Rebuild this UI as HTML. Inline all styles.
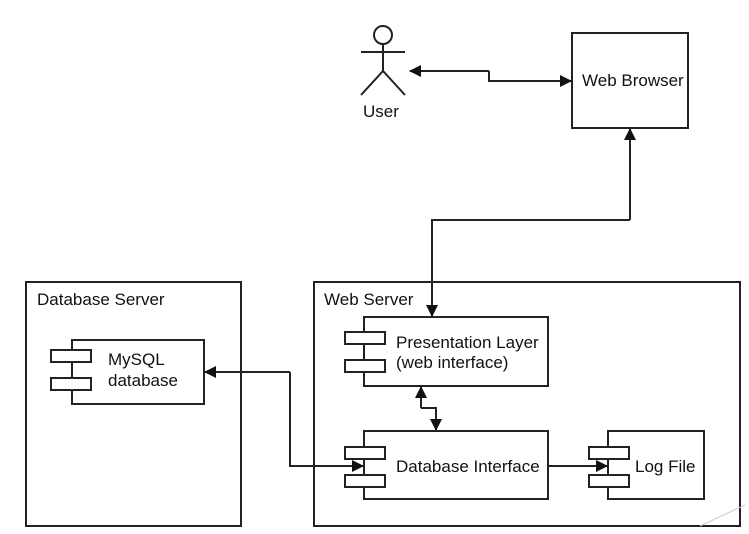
<!DOCTYPE html>
<html><head><style>body{margin:0;background:#fff}svg{display:block}</style></head><body>
<svg width="749" height="534" xmlns="http://www.w3.org/2000/svg" font-family="Liberation Sans, sans-serif" fill="none" stroke="#222" stroke-width="2">
<defs><marker id="a" markerWidth="12" markerHeight="12" refX="11" refY="6" orient="auto" markerUnits="userSpaceOnUse"><path d="M0,0 L12,6 L0,12z" fill="#111" stroke="none"/></marker></defs>
<rect x="26" y="282" width="215" height="244"/>
<rect x="314" y="282" width="426" height="244"/>
<rect x="572" y="33" width="116" height="95"/>
<g fill="#fff">
<rect x="72" y="340" width="132" height="64"/><rect x="51" y="350" width="40" height="12"/><rect x="51" y="378" width="40" height="12"/>
<rect x="364" y="317" width="184" height="69"/><rect x="345" y="332" width="40" height="12"/><rect x="345" y="360" width="40" height="12"/>
<rect x="364" y="431" width="184" height="68"/><rect x="345" y="447" width="40" height="12"/><rect x="345" y="475" width="40" height="12"/>
<rect x="608" y="431" width="96" height="68"/><rect x="589" y="447" width="40" height="12"/><rect x="589" y="475" width="40" height="12"/>
</g>
<circle cx="383" cy="35" r="9"/>
<path d="M383 44V71M361 52H405M361 95L383 71L405 95"/>
<path d="M489 71H410" marker-end="url(#a)"/>
<path d="M489 71V81H571" marker-end="url(#a)"/>
<path d="M630 220V129" marker-end="url(#a)"/>
<path d="M630 220H432V316" marker-end="url(#a)"/>
<path d="M290 372H205" marker-end="url(#a)"/>
<path d="M290 372V466H363" marker-end="url(#a)"/>
<path d="M421 408V387" marker-end="url(#a)"/>
<path d="M421 408H436V430" marker-end="url(#a)"/>
<path d="M548 466H607" marker-end="url(#a)"/>
<path d="M700 526L745 505" stroke="#ccc" stroke-width="1"/>
<g fill="#111" stroke="none" font-size="17">
<text x="363" y="117">User</text>
<text x="582" y="86">Web Browser</text>
<text x="37" y="305">Database Server</text>
<text x="324" y="305">Web Server</text>
<text x="108" y="365">MySQL</text>
<text x="108" y="386">database</text>
<text x="396" y="348">Presentation Layer</text>
<text x="396" y="368">(web interface)</text>
<text x="396" y="472">Database Interface</text>
<text x="635" y="472">Log File</text>
</g>
</svg>
</body></html>
